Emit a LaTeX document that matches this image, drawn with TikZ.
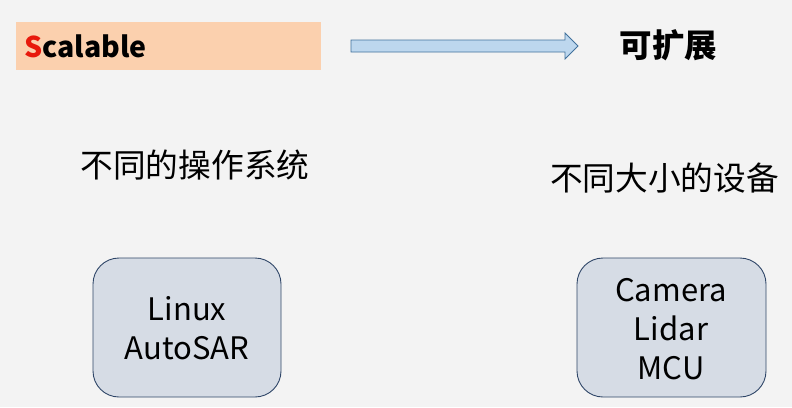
\documentclass[tikz,border=0pt]{standalone}
\usepackage{fontspec}
\setmainfont{Noto Sans CJK SC}
\setsansfont{Noto Sans CJK SC}
\definecolor{bg}{HTML}{F3F3F3}
\definecolor{orangefill}{HTML}{FBD0AE}
\definecolor{arrowfill}{HTML}{BDD7EE}
\definecolor{arrowdraw}{HTML}{41719C}
\definecolor{boxfill}{HTML}{D6DCE5}
\definecolor{boxdraw}{HTML}{2F4668}
\definecolor{sred}{HTML}{E8190C}
\tikzset{
  devbox/.style={draw=boxdraw, fill=boxfill, line width=0.9pt, rounded corners=26pt},
  bigtext/.style={font=\fontsize{31}{39}\selectfont, align=center, inner sep=0pt},
  cjktext/.style={font=\fontsize{32.7}{36}\selectfont, inner sep=0pt},
}
\begin{document}
\begin{tikzpicture}[x=1pt,y=-1pt]
\fill[bg] (0,0) rectangle (792,407);
\useasboundingbox (0,0) rectangle (792,407);
% title bar
\fill[orangefill] (16,22) rectangle (321,70);
\node[anchor=west, inner sep=0pt, font=\fontsize{28.5}{34}\selectfont\bfseries] (scal) at (24,46) {\textcolor{sred}{S}calable};
% block arrow
\draw[draw=arrowdraw, fill=arrowfill, line width=0.8pt]
  (351,40) -- (565,40) -- (565,33) -- (578,46) -- (565,59) -- (565,52) -- (351,52) -- cycle;
\node[cjktext, font=\fontsize{32.5}{36}\selectfont\bfseries] (kuo) at (668.5,45) {可扩展};
% labels
\node[cjktext] (os) at (195,165) {不同的操作系统};
\node[cjktext] (dev) at (664.5,178) {不同大小的设备};
% boxes
\draw[devbox] (93,258) rectangle (281,397);
\node[bigtext] (b1) at (187,328) {Linux\\AutoSAR};
\draw[devbox] (577,258) rectangle (766,397);
\node[bigtext] (b2) at (671,329) {Camera\\Lidar\\MCU};
\end{tikzpicture}
\end{document}
